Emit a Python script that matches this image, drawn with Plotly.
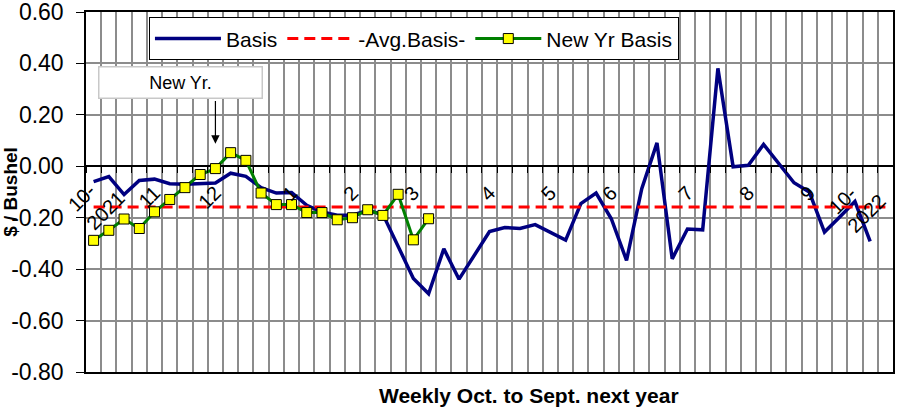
import plotly.graph_objects as go

# ---------------- data ----------------
weeks = list(range(53))  # weekly categories, Oct 2021 .. Oct 2022

basis = [-0.060, -0.040, -0.110, -0.055, -0.050, -0.068, -0.070, -0.069, -0.065, -0.027,
         -0.039, -0.083, -0.104, -0.102, -0.152, -0.178, -0.190, -0.190, -0.171, -0.187,
         -0.310, -0.436, -0.496, -0.321, -0.439, -0.344, -0.254, -0.238, -0.242, -0.227,
         -0.256, -0.287, -0.145, -0.104, -0.204, -0.366, -0.087, 0.091, -0.360, -0.244,
         -0.247, 0.381, -0.002, 0.004, 0.085, 0.012, -0.064, -0.100, -0.256, -0.197,
         -0.137, -0.292]

avg_basis_value = -0.158
avg_basis = [avg_basis_value] * len(weeks)

new_yr_basis = [-0.288, -0.249, -0.205, -0.242, -0.177, -0.129, -0.083, -0.032, -0.009, 0.053,
                0.023, -0.104, -0.149, -0.149, -0.180, -0.180, -0.208, -0.200, -0.169, -0.191,
                -0.109, -0.286, -0.204]

month_tick_weeks = [0, 4, 8, 13, 17, 21, 26, 30, 34, 39, 43, 47, 52]
month_tick_labels = ["10-<br>2021", "11", "12", "1", "2", "3", "4", "5", "6", "7", "8", "9",
                     "10-<br>2022"]

y_tick_vals = [0.6, 0.4, 0.2, 0.0, -0.2, -0.4, -0.6, -0.8]
y_tick_text = ["0.60", "0.40", "0.20", "0.00", "-0.20", "-0.40", "-0.60", "-0.80"]

new_yr_week = 8
# --------------------------------------

FONT = "Arial, Liberation Sans, sans-serif"
YMIN, YMAX = -0.8, 0.6
XMIN, XMAX = -0.5, len(weeks) - 0.5
GRID = "#8C8C8C"

fig = go.Figure()

fig.add_trace(go.Scatter(
    x=weeks[:len(basis)], y=basis, name="Basis", mode="lines",
    line=dict(color="#000080", width=3.5)))

fig.add_trace(go.Scatter(
    x=weeks, y=avg_basis, name="-Avg.Basis-", mode="lines",
    line=dict(color="#FF0000", width=3, dash="11px,6px")))

fig.add_trace(go.Scatter(
    x=weeks[:len(new_yr_basis)], y=new_yr_basis, name="New Yr Basis", mode="lines+markers",
    line=dict(color="#008000", width=3),
    marker=dict(symbol="square", size=10, color="#FFFF00", line=dict(color="black", width=1))))

# dummy trace on the secondary x-axis so it renders
fig.add_trace(go.Scatter(x=[weeks[0]], y=[None], xaxis="x2", showlegend=False,
                         hoverinfo="skip"))

zero_pos = (0 - YMIN) / (YMAX - YMIN)

# single-line month labels go on the axis; two-line year labels as rotated annotations
axis_labels = [t if "<br>" not in t else "" for t in month_tick_labels]
year_label_annots = []
for wk, txt in zip(month_tick_weeks, month_tick_labels):
    if "<br>" in txt:
        first = wk == month_tick_weeks[0]
        year_label_annots.append(dict(
            xref="x", yref="y", x=wk, y=-0.17,
            xshift=3 if first else -28, yshift=9 if first else 6,
            text=txt, showarrow=False,
            textangle=-45, align="left", xanchor="center", yanchor="middle",
            font=dict(size=20, family=FONT, color="black")))

fig.update_layout(
    width=904, height=412,
    margin=dict(l=86, r=11, t=12, b=40, autoexpand=False),
    paper_bgcolor="white", plot_bgcolor="white",
    font=dict(family=FONT, color="black"),
    showlegend=True,
    legend=dict(
        orientation="h", x=0.078, y=0.985, xanchor="left", yanchor="top",
        bgcolor="white", bordercolor="black", borderwidth=1,
        font=dict(size=21, family=FONT), itemwidth=66,
        tracegroupgap=0,
    ),
    xaxis=dict(
        range=[XMIN, XMAX], tickmode="linear", tick0=XMIN, dtick=1,
        showticklabels=False, ticks="", automargin=False,
        showgrid=True, gridcolor=GRID, gridwidth=1.5,
        showline=True, linecolor="black", linewidth=1.5, mirror=True,
        zeroline=False,
    ),
    xaxis2=dict(
        overlaying="x", anchor="free", position=zero_pos, side="bottom",
        range=[XMIN, XMAX], tickmode="array", tickvals=month_tick_weeks,
        ticktext=axis_labels, tickangle=-45, ticks="", automargin=False,
        tickfont=dict(size=20, family=FONT), ticklabelstandoff=10,
        ticklabeloverflow="allow",
        showgrid=False, showline=False, zeroline=False,
        minor=dict(tickmode="linear", tick0=XMIN, dtick=1, ticks="outside",
                   ticklen=6, tickcolor="black", tickwidth=1, showgrid=False),
    ),
    yaxis=dict(
        range=[YMIN, YMAX], tickmode="array", tickvals=y_tick_vals, ticktext=y_tick_text,
        ticks="outside", ticklen=8, tickcolor="black", tickwidth=1,
        tickfont=dict(size=23, family=FONT), ticklabelstandoff=8, automargin=False,
        ticklabeloverflow="allow",
        showgrid=True, gridcolor=GRID, gridwidth=1.5,
        zeroline=True, zerolinecolor="black", zerolinewidth=1.5,
        showline=True, linecolor="black", linewidth=1.5, mirror=True,
        title=dict(text="<b>$ / Bushel</b>", font=dict(size=19, family=FONT), standoff=4),
    ),
    shapes=[dict(type="line", xref="paper", x0=0, x1=1, yref="y",
                 y0=avg_basis_value - 0.042, y1=avg_basis_value - 0.042,
                 line=dict(color="black", width=1.2), layer="below")],
    annotations=[
        dict(xref="paper", yref="paper", x=0.549, y=-0.028, xanchor="center", yanchor="top",
             text="<b>Weekly Oct. to Sept. next year</b>", showarrow=False,
             font=dict(size=21, family=FONT, color="black")),
        dict(xref="x", yref="y", x=5.7, y=0.327, text="New Yr.", showarrow=False,
             font=dict(size=18, family=FONT, color="black"),
             bgcolor="white", bordercolor="#C8C8C8", borderwidth=1.5,
             width=160, height=28),
        dict(xref="x", yref="y", x=new_yr_week, y=0.088, axref="x", ayref="y",
             ax=new_yr_week, ay=0.26, text="", showarrow=True,
             arrowhead=2, arrowsize=1.4, arrowwidth=1.2, arrowcolor="black"),
    ] + year_label_annots,
)

fig.write_html("out.html", config={"displayModeBar": False},
               post_script="document.body.style.margin='0px';document.body.style.padding='0px';")
